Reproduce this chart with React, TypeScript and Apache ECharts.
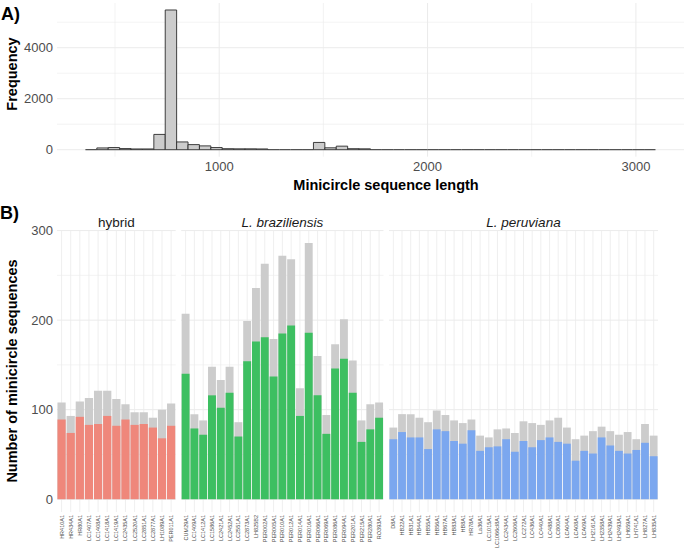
import React, { useEffect, useRef } from "react";
import * as echarts from "echarts";

// ---------- Panel A: histogram of minicircle sequence lengths ----------
const binStart = 358;
const binWidth = 54.72;
const binCounts = [
  10, 70, 85, 45, 30, 30, 600, 5480, 305, 200,
  150, 85, 40, 35, 35, 30, 3, 2, 2, 5,
  285, 75, 140, 40, 35, 5, 3, 2, 2, 1,
  1, 2, 1, 1, 0, 1, 0, 1, 0, 0,
  1, 0, 0, 0, 1, 0, 0, 0, 0, 1,
];
const histXTicks = [1000, 2000, 3000];
const histXGrid = [500, 1000, 1500, 2000, 2500, 3000];
const histYTicks = [0, 2000, 4000];
const histYGrid = [0, 1000, 2000, 3000, 4000, 5000];

// ---------- Panel B: number of minicircle sequences per isolate ----------
const hybridNames = ["HR410A1", "HR434A1", "HR80A1", "LC1407A1", "LC1408A1", "LC1418A1", "LC1419A1", "LC2435A1", "LC2520A1", "LC2851A1", "LC2877A1", "LH1089A1", "PER011A1"];
const hybridTotal = [108, 93, 109, 113, 121, 121, 112, 106, 97, 97, 91, 100, 107];
const hybridPart = [89, 74, 92, 83, 84, 93, 82, 89, 83, 84, 80, 68, 82];

const brazNames = ["CUM29A1", "LC1409A1", "LC1412A1", "LC1586A1", "LC2421A1", "LC2452A1", "LC2551A1", "LC2873A1", "LH825B2", "PER002A1", "PER005A1", "PER010A1", "PER012A1", "PER014A1", "PER016A1", "PER066A1", "PER069A1", "PER086A1", "PER094A1", "PER201A1", "PER215A1", "PER280A1", "RO393A1"];
const brazTotal = [207, 95, 88, 148, 133, 148, 86, 199, 236, 263, 179, 272, 268, 124, 286, 160, 94, 173, 201, 155, 88, 106, 108];
const brazPart = [140, 79, 72, 116, 102, 119, 70, 154, 176, 181, 137, 185, 194, 93, 186, 116, 73, 146, 157, 119, 64, 78, 91];

const peruNames = ["D8A1", "HB22A1", "HB31A1", "HB44A1", "HB55A1", "HB56A1", "HB67A1", "HB83A1", "HB8A1", "HR78A1", "La36A1", "LC1015A1", "LC1066cl8A1", "LC2434A1", "LC2606A1", "LC272A1", "LC436A1", "LC440A1", "LC488A1", "LC800A1", "LCA04A1", "LCA08A1", "LCA09A1", "LH2161A1", "LH2358A1", "LH2439A1", "LH2493A1", "LH659A1", "LH741A1", "LH827A1", "LH835A1"];
const peruTotal = [80, 95, 95, 91, 86, 99, 94, 88, 85, 89, 71, 69, 78, 79, 74, 87, 85, 83, 88, 91, 80, 67, 71, 76, 81, 76, 72, 75, 67, 84, 71];
const peruPart = [67, 75, 69, 69, 56, 78, 76, 65, 62, 77, 54, 58, 59, 67, 53, 65, 58, 66, 69, 64, 62, 43, 54, 51, 69, 60, 54, 51, 55, 63, 48];

const facetLabels = ["hybrid", "L. braziliensis", "L. peruviana"];
const countYTicks = [0, 100, 200, 300];
const countYGrid = [0, 50, 100, 150, 200, 250, 300];

const FONT = "Liberation Sans, Arial, Helvetica, sans-serif";
const GRID = "#EBEBEB";
const TEXT = "#4D4D4D";
const GRAY_BAR = "#CCCCCC";
const facetColors = ["#EF877B", "#3DBF61", "#7BA7EF"];

const plain = (v: number) => String(v);

export default function App() {
  const ref = useRef<HTMLDivElement>(null);

  useEffect(() => {
    if (!ref.current) return;
    const chart = echarts.init(ref.current, null, { renderer: "svg" });

    const histData = binCounts.map((c, i) => [binStart + i * binWidth, binStart + (i + 1) * binWidth, c]);

    const facets = [
      { names: hybridNames, total: hybridTotal, part: hybridPart, left: 57, width: 118.7 },
      { names: brazNames, total: brazTotal, part: brazPart, left: 181.2, width: 202.3 },
      { names: peruNames, total: peruTotal, part: peruPart, left: 389, width: 269 },
    ];

    const vGrid = (idx: number, vals: any[], yRef: number, widths?: number[]) => ({
      type: "custom",
      xAxisIndex: idx,
      yAxisIndex: idx,
      silent: true,
      z: 0,
      data: vals.map((v) => [v, yRef]),
      encode: { x: 0, y: 1 },
      renderItem: (params: any, api: any) => {
        const cs = params.coordSys;
        const x = api.coord([api.value(0), api.value(1)])[0];
        const w = widths ? widths[params.dataIndex] : 0.8;
        return { type: "line", shape: { x1: x, y1: cs.y, x2: x, y2: cs.y + cs.height }, style: { stroke: GRID, lineWidth: w } };
      },
    });
    const hGrid = (idx: number, vals: number[], xRef: any, widths?: number[]) => ({
      type: "custom",
      xAxisIndex: idx,
      yAxisIndex: idx,
      silent: true,
      z: 0,
      data: vals.map((v) => [xRef, v]),
      encode: { x: 0, y: 1 },
      renderItem: (params: any, api: any) => {
        const cs = params.coordSys;
        const y = api.coord([api.value(0), api.value(1)])[1];
        const w = widths ? widths[params.dataIndex] : 0.8;
        return { type: "line", shape: { x1: cs.x, y1: y, x2: cs.x + cs.width, y2: y }, style: { stroke: GRID, lineWidth: w } };
      },
    });

    const grids: any[] = [{ left: 57, top: 3, width: 627, height: 153.7 }];
    const xAxes: any[] = [
      {
        type: "value",
        gridIndex: 0,
        min: 221.6,
        max: 3230.8,
        splitLine: { show: false },
        axisLine: { show: false },
        axisTick: { show: false },
        axisLabel: { customValues: histXTicks, formatter: plain, color: TEXT, fontSize: 13, fontFamily: FONT, margin: 3 },
      },
    ];
    const yAxes: any[] = [
      {
        type: "value",
        gridIndex: 0,
        min: -274,
        max: 5754,
        splitLine: { show: false },
        axisLine: { show: false },
        axisTick: { show: false },
        axisLabel: { customValues: histYTicks, formatter: plain, color: TEXT, fontSize: 13, fontFamily: FONT, margin: 4 },
      },
    ];
    const series: any[] = [
      vGrid(0, histXGrid, 0, histXGrid.map((v) => (v % 1000 === 0 ? 1 : 0.6))),
      hGrid(0, histYGrid, 1000, histYGrid.map((v) => (v % 2000 === 0 ? 1 : 0.6))),
      {
        type: "custom",
        xAxisIndex: 0,
        yAxisIndex: 0,
        z: 2,
        data: histData,
        encode: { x: [0, 1], y: 2 },
        renderItem: (params: any, api: any) => {
          const p0 = api.coord([api.value(0), 0]);
          const p1 = api.coord([api.value(1), api.value(2)]);
          const h = p0[1] - p1[1];
          if (h < 0.3) {
            return { type: "line", shape: { x1: p0[0], y1: p0[1], x2: p1[0], y2: p0[1] }, style: { stroke: "#2B2B2B", lineWidth: 1 } };
          }
          return {
            type: "rect",
            shape: { x: p0[0], y: p1[1], width: p1[0] - p0[0], height: h },
            style: { fill: GRAY_BAR, stroke: "#2B2B2B", lineWidth: 0.9 },
          };
        },
      },
    ];

    facets.forEach((f, k) => {
      const idx = k + 1;
      grids.push({ left: f.left, top: 230.5, width: f.width, height: 281.5 });
      xAxes.push({
        type: "category",
        gridIndex: idx,
        data: f.names,
        boundaryGap: true,
        axisLine: { show: false },
        axisTick: { show: false },
        splitLine: { show: false },
        axisLabel: { interval: 0, rotate: 90, fontSize: 5.5, color: TEXT, fontFamily: FONT, margin: 3 },
      });
      yAxes.push({
        type: "value",
        gridIndex: idx,
        min: -14.3,
        max: 300.1,
        splitLine: { show: false },
        axisLine: { show: false },
        axisTick: { show: false },
        axisLabel: k === 0
          ? { customValues: countYTicks, formatter: plain, color: TEXT, fontSize: 13, fontFamily: FONT, margin: 4 }
          : { show: false },
      });
      series.push(vGrid(idx, f.names, 0));
      series.push(hGrid(idx, countYGrid, f.names[0], countYGrid.map((v) => (v % 100 === 0 ? 1 : 0.6))));
      series.push({
        type: "bar",
        xAxisIndex: idx,
        yAxisIndex: idx,
        data: f.total,
        barGap: "-100%",
        barCategoryGap: "10%",
        itemStyle: { color: GRAY_BAR },
        z: 2,
      });
      series.push({
        type: "bar",
        xAxisIndex: idx,
        yAxisIndex: idx,
        data: f.part,
        barGap: "-100%",
        barCategoryGap: "10%",
        itemStyle: { color: facetColors[k] },
        z: 3,
      });
    });

    const txt = (text: string, x: number, y: number, size: number, opts: any = {}) => ({
      type: "text",
      x,
      y,
      rotation: opts.rotation || 0,
      style: {
        text,
        fontSize: size,
        fontFamily: FONT,
        fontWeight: opts.bold ? "bold" : "normal",
        fontStyle: opts.italic ? "italic" : "normal",
        fill: opts.color || "#000000",
        textAlign: opts.align || "center",
        textVerticalAlign: "middle",
        align: opts.align || "center",
        verticalAlign: "middle",
      },
    });

    const graphic: any[] = [
      txt("A)", 1, 14, 18, { bold: true, align: "left" }),
      txt("B)", 0, 212.5, 18, { bold: true, align: "left" }),
      txt("Frequency", 12, 74, 14.5, { bold: true, rotation: Math.PI / 2 }),
      txt("Minicircle sequence length", 386, 184.5, 14.5, { bold: true }),
      txt("Number of minicircle sequences", 12, 371, 14.5, { bold: true, rotation: Math.PI / 2 }),
    ];
    facets.forEach((f, k) => {
      graphic.push(txt(facetLabels[k], f.left + f.width / 2, 222, 13.5, { italic: k > 0, color: "#1A1A1A" }));
    });

    chart.setOption({
      animation: false,
      backgroundColor: "#FFFFFF",
      textStyle: { fontFamily: FONT },
      grid: grids,
      xAxis: xAxes,
      yAxis: yAxes,
      series,
      graphic,
    });

    return () => chart.dispose();
  }, []);

  return <div ref={ref} style={{ position: "absolute", left: 0, top: 0, width: 685, height: 552 }} />;
}
